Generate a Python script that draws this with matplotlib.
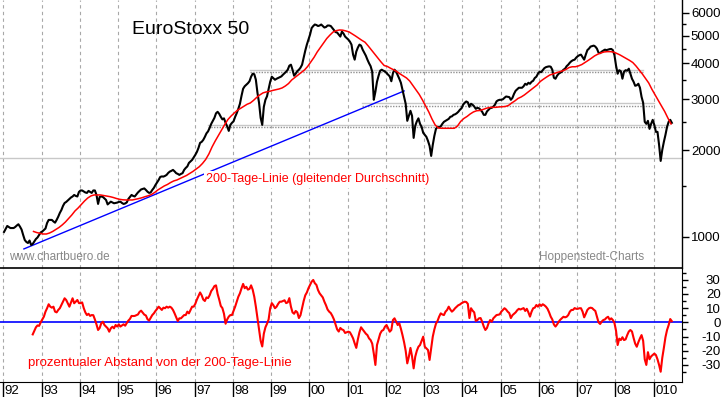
"""EuroStoxx 50 with 200-day line and percentage distance panel."""
import numpy as np
import matplotlib
matplotlib.use("Agg")
import matplotlib.pyplot as plt
from matplotlib.ticker import FixedLocator, FixedFormatter, NullFormatter
from matplotlib.transforms import blended_transform_factory

plt.rcParams["font.family"] = ["Liberation Sans", "DejaVu Sans"]

nan = np.nan

# half-month readings (Jan 1992 .. Jun 2009) for index and distance,
# monthly readings for the 200-day line
half_dates = 1992 + (np.arange(420) + 0.5) / 24
month_dates = 1992 + (np.arange(210) + 0.5) / 12

price = [
    # 1992
    1041, 1066, 1092, 1083, 1074, 1074, 1074, 1083, 1096, 1107, 1086, 1061,
    1016, 976, 961, 953, 972, 938, 946, 965, 984, 996, 1016, 1037,
    # 1993
    1045, 1057, 1070, 1118, 1146, 1146, 1146, 1132, 1121, 1146, 1176, 1212,
    1241, 1282, 1312, 1323, 1339, 1355, 1371, 1382, 1399, 1388, 1382, 1433,
    # 1994
    1450, 1450, 1439, 1427, 1422, 1445, 1433, 1422, 1450, 1450, 1399, 1302,
    1377, 1382, 1377, 1360, 1344, 1297, 1312, 1326, 1318, 1309, 1312, 1316,
    # 1995
    1323, 1326, 1312, 1302, 1307, 1318, 1355, 1377, 1399, 1388, 1382, 1404,
    1427, 1445, 1462, 1468, 1474, 1456, 1436, 1422, 1427, 1456, 1480, 1515,
    # 1996
    1546, 1577, 1616, 1622, 1620, 1629, 1642, 1668, 1686, 1696, 1709, 1689,
    1665, 1655, 1642, 1655, 1665, 1709, 1736, 1757, 1807, 1829, 1851, 1888,
    # 1997
    1927, 1973, 2037, 2121, 2138, 2172, 2225, 2288, 2325, 2391, 2469, 2529,
    2590, 2686, 2718, 2675, 2611, 2559, 2580, 2489, 2420, 2334, 2449, 2489,
    # 1998
    2519, 2611, 2690, 2784, 2898, 3089, 3268, 3334, 3374, 3415, 3470, 3598,
    3685, 3670, 3512, 3164, 2921, 2590, 2449, 2829, 2992, 3077, 3268, 3456,
    # 1999
    3598, 3555, 3512, 3540, 3561, 3584, 3607, 3656, 3700, 3745, 3805, 3929,
    3961, 3805, 3627, 3685, 3760, 3805, 3867, 3961, 4190, 4431, 4650, 4840,
    # 2000
    5038, 5308, 5394, 5460, 5438, 5394, 5416, 5460, 5394, 5330, 5352, 5416,
    5416, 5394, 5308, 5224, 5140, 5120, 5038, 4958, 5161, 5079, 4958, 4899,
    # 2001
    4840, 4763, 4650, 4292, 4123, 4396, 4540, 4650, 4613, 4467, 4361, 4257,
    4123, 4009, 3914, 3745, 2992, 3190, 3456, 3627, 3775, 3805, 3775, 3755,
    # 2002
    3707, 3656, 3607, 3470, 3700, 3805, 3745, 3641, 3540, 3428, 3242, 3064,
    2898, 2529, 2632, 2740, 2632, 2207, 2430, 2519, 2580, 2469, 2410, 2298,
    # 2003
    2261, 2225, 2155, 2070, 1911, 2087, 2243, 2372, 2410, 2400, 2420, 2469,
    2509, 2529, 2549, 2569, 2611, 2621, 2653, 2664, 2686, 2718, 2762, 2795,
    # 2004
    2875, 2921, 2952, 2933, 2829, 2898, 2875, 2837, 2784, 2806, 2795, 2762,
    2718, 2653, 2653, 2726, 2762, 2799, 2806, 2835, 2875, 2955, 2980, 2992,
    # 2005
    2992, 3004, 3040, 3072, 3064, 3057, 2992, 3040, 3139, 3216, 3255, 3294,
    3294, 3294, 3334, 3401, 3374, 3428, 3401, 3456, 3484, 3561, 3598, 3685,
    # 2006
    3745, 3730, 3790, 3852, 3883, 3898, 3908, 3898, 3805, 3569, 3540, 3627,
    3685, 3715, 3745, 3805, 3836, 3914, 3961, 4025, 4074, 4106, 4123, 4190,
    # 2007
    4240, 4274, 4292, 4207, 4123, 4292, 4449, 4503, 4577, 4595, 4613, 4577,
    4503, 4361, 4343, 4396, 4431, 4467, 4449, 4467, 4485, 4492, 4449, 4274,
    # 2008
    3929, 3685, 3790, 3760, 3541, 3745, 3790, 3775, 3836, 3685, 3540, 3456,
    3347, 3360, 3401, 3294, 3064, 2921, 2509, 2469, 2529, 2372, 2469, 2549,
    # 2009
    2449, 2316, 2316, 2087, 1836, 2005, 2138, 2261, 2410, 2509, 2549, 2489,
]

ma200 = [
    nan, nan, nan, nan, nan, nan, nan, nan, nan, 1045, 1036, 1030,
    1024, 1024, 1032, 1045, 1062, 1079, 1101, 1127, 1159, 1192, 1231, 1261,
    1297, 1333, 1365, 1388, 1399, 1399, 1399, 1393, 1388, 1380, 1371, 1360,
    1351, 1346, 1344, 1344, 1344, 1351, 1359, 1368, 1380, 1390, 1404, 1427,
    1456, 1479, 1503, 1521, 1545, 1565, 1577, 1596, 1616, 1635, 1661, 1688,
    1721, 1753, 1799, 1857, 1940, 2052, 2153, 2250, 2350, 2457, 2557, 2630,
    2694, 2753, 2797, 2841, 2887, 2917, 2977, 3049, 3111, 3162, 3186, 3199,
    3224, 3242, 3262, 3290, 3341, 3407, 3506, 3577, 3649, 3723, 3797, 3905,
    4050, 4200, 4385, 4546, 4712, 4884, 5020, 5145, 5200, 5227, 5218, 5186,
    5145, 5062, 4982, 4894, 4812, 4739, 4600, 4454, 4315, 4181, 4050, 3935,
    3905, 3850, 3802, 3747, 3679, 3620, 3563, 3478, 3357, 3237, 3124, 2989,
    2849, 2715, 2567, 2447, 2389, 2383, 2383, 2383, 2383, 2383, 2426, 2517,
    2577, 2619, 2672, 2715, 2741, 2747, 2769, 2795, 2813, 2817, 2817, 2826,
    2830, 2836, 2860, 2917, 2965, 3025, 3061, 3111, 3174, 3237, 3302, 3369,
    3465, 3530, 3591, 3649, 3678, 3713, 3742, 3772, 3812, 3872, 3896, 3896,
    3924, 3965, 4030, 4098, 4170, 4248, 4306, 4350, 4385, 4396, 4396, 4378,
    4333, 4281, 4220, 4163, 4098, 4030, 3921, 3797, 3678, 3549, 3422, 3254,
    3111, 2977, 2849, 2726, 2588, 2467,
]

distance = [
    # 1992
    nan, nan, nan, nan, nan, nan, nan, nan, nan, nan, nan, nan,
    nan, nan, nan, nan, nan, nan, -8.5, -6, -3.5, -2.2, -2.5, 0,
    # 1993
    2, 4, 7.5, 9.9, 12.7, 11, 10.3, 11, 7.5, 7, 8.7, 9.9,
    12.2, 14.5, 16.9, 15.7, 13.4, 11, 14, 16.9, 13.4, 14.5, 15.7, 13.5,
    # 1994
    13.5, 14, 10, 7, 5.1, 6, 4.5, 5.1, 5, 2, -1.5, -5.4,
    -4, -0.7, 0.4, -1.9, -3.1, -4.2, -6.6, -4.2, -3.1, -4.2, -1.9, -3,
    # 1995
    -1.4, -3, -2.2, -1.4, -2.4, -0.5, 1.2, 2.4, 4.5, 4.4, 4.5, 5,
    5.5, 7.3, 8.2, 6.8, 5.4, 4.8, 2.2, 1.2, 3.2, 5.1, 6.3, 8,
    # 1996
    9.4, 11, 9.9, 8.7, 10.3, 9.9, 11, 10.3, 11, 10.3, 8.7, 6.3,
    3.5, 0.9, 2.8, 2.8, 3.9, 5.1, 5.1, 7.5, 6.3, 8.7, 11, 11,
    # 1997
    13, 16, 18.5, 21, 19, 16, 15, 17.5, 17, 19, 22, 23.5,
    25.5, 26, 20, 16, 11.5, 10, 6, -1, 2, 4, 5.1, 5.1,
    # 1998
    8, 11, 14.5, 18, 20.4, 23.9, 27, 24, 25, 23, 23.5, 26,
    23, 18, 11, 3, -5, -13, -17, -8, -3.5, -1, 2, 10,
    # 1999
    13.5, 12, 9.9, 11, 13, 14.5, 14.5, 15, 15.5, 13.5, 14, 17,
    11, 7, 6, 8, 7, 3, 5, 10, 15, 19, 21, 24,
    # 2000
    26.3, 28.6, 29.8, 27.5, 26.3, 22.7, 20.4, 19, 17.5, 14.5, 12, 9,
    7.5, 6.5, 4.5, 2, -1.5, -5, -6.5, -4, -5, -5.5, -7.5, -7,
    # 2001
    -6.6, -7, -9, -11.3, -14.8, -18, -12, -7, -3.5, -5, -6.5, -8,
    -9, -11.3, -12.5, -15, -22, -30, -16, -12, -8, -6, -5.4, -3.1,
    # 2002
    -1.9, -4.2, -6.6, -5.4, 1.6, 2.8, 0.4, -1.9, -0.7, -4.5, -9, -14,
    -20, -28.9, -24.2, -18, -24, -32.4, -24.2, -20, -17.2, -16, -13, -10.1,
    # 2003
    -17.2, -18.3, -19.5, -26.5, -18.3, -10.1, -5, -1, 1, 4, 6.3, 5.5,
    5.1, 7.5, 8.7, 11, 9, 7.5, 8.5, 9.9, 11, 12, 12.5, 13.4,
    # 2004
    14, 14.5, 14.3, 13, 3, 9.9, 8.2, 7, 1, 1.6, 2.8, 3,
    0.4, -3, -5.4, -4, -0.7, 1.6, 0.4, 2.8, 4, 5.1, 5.3, 5.6,
    # 2005
    7.5, 8.7, 9.9, 9, 7.5, 6.5, 3, 5, 6, 7, 8.5, 9.5,
    9, 9.5, 10, 8, 9.5, 7, 4, 7.5, 9.9, 10.3, 12.2, 11,
    # 2006
    12.7, 11.5, 12.7, 12, 11, 9.5, 7, 4, 2, -1.5, -3, -1.5,
    0.4, 1.8, 2.8, 3.9, 3.5, 3.9, 5.1, 7.5, 8.7, 8.7, 10, 9.5,
    # 2007
    9.5, 9.9, 9.9, 7.5, 3.5, 6, 8.7, 9.9, 10.3, 10, 8.9, 8,
    4, 0, -1.2, 0.5, 1.6, 2, 3.2, 3.9, 1.8, 2.8, 1.6, -0.5,
    # 2008
    -6, -16, -11.5, -12.5, -10.5, -12.5, -12, -9, -6.5, -5.4, -6.5, -11,
    -15, -17.2, -14, -11.3, -9, -13, -26, -30, -21, -26, -24, -23,
    # 2009
    -22, -23, -26, -30, -34.8, -25, -18, -10.5, -5.4, -2, 2.3, 0.8,
]

# trend line and horizontal marks drawn on the chart
trend_dates = [1992.54, 2002.48]
trend_values = [909, 3211]
level_values = [3810, 2905, 2440]
level_start = [1998.45, 2001.38, 1997.35]
level_end = [2008.73, 2009.01, 2009.40]
support_value = 1884

years = list(range(1992, 2010))
year_labels = ["92", "93", "94", "95", "96", "97", "98", "99", "00",
               "01", "02", "03", "04", "05", "06", "07", "08", "010"]
price_ticks = [1000, 2000, 3000, 4000, 5000, 6000]
price_minor = [1500, 2500, 3500, 4500, 5500]
dist_ticks = [-30, -20, -10, 0, 10, 20, 30]
dist_minor = [-35, -25, -15, -5, 5, 15, 25, 35]

W, H = 723, 397
XLIM = (1991.915, 2009.745)


def box(l, t, r, b):
    return [l / W, 1 - b / H, (r - l) / W, (b - t) / H]


fig = plt.figure(figsize=(W / 100, H / 100), dpi=100)
axl = fig.add_axes(box(0, 268.3, 682, 382))
ax = fig.add_axes(box(0, 0, 682, 268.3))
ax.patch.set_visible(False)

grid_kw = dict(color="#a8a8a8", lw=0.8, ls=(0, (3, 3)), zorder=0.5)

# --- price panel
ax.set_yscale("log")
ax.set_xlim(*XLIM)
ax.set_ylim(778.6, 6641)
for yr in years:
    ax.axvline(yr, **grid_kw)
ax.axhline(support_value, color="#c8c8c8", lw=1.0, zorder=1)
for lv, x0, x1 in zip(level_values, level_start, level_end):
    ax.plot([x0, x1], [lv, lv], color="#c8c8c8", lw=1.0, zorder=1)
    ax.plot([x0, x1], [lv * 0.984, lv * 0.984], color="#909090", lw=1.0,
            ls=(0, (1, 1)), zorder=1)
ax.plot(trend_dates, trend_values, color="#0000ff", lw=1.0, zorder=2)
ax.plot(half_dates, price, color="black", lw=1.5, zorder=3)
ax.plot(month_dates, ma200, color="#ff0000", lw=1.1, zorder=4)

for s in ("left", "top"):
    ax.spines[s].set_visible(False)
ax.spines["bottom"].set_linewidth(1.2)
ax.spines["right"].set_linewidth(1.0)
ax.tick_params(axis="x", bottom=False, labelbottom=False)
ax.yaxis.tick_right()
ax.yaxis.set_major_locator(FixedLocator(price_ticks))
ax.yaxis.set_major_formatter(FixedFormatter([str(v) for v in price_ticks]))
ax.yaxis.set_minor_locator(FixedLocator(price_minor))
ax.yaxis.set_minor_formatter(NullFormatter())
ax.tick_params(axis="y", which="major", length=5, width=1, pad=1.4,
               labelsize=9.5)
ax.tick_params(axis="y", which="minor", length=2.9, width=1)

# --- distance panel
axl.set_xlim(*XLIM)
axl.set_ylim(-42, 38)
for yr in years:
    axl.axvline(yr, **grid_kw)
axl.axhline(0, color="#0000ff", lw=1.2, zorder=2)
axl.plot(half_dates, distance, color="#ff0000", lw=1.5, zorder=3)
for s in ("left", "top"):
    axl.spines[s].set_visible(False)
axl.yaxis.tick_right()
axl.yaxis.set_major_locator(FixedLocator(dist_ticks))
axl.yaxis.set_major_formatter(FixedFormatter([str(v) for v in dist_ticks]))
axl.yaxis.set_minor_locator(FixedLocator(dist_minor))
axl.yaxis.set_minor_formatter(NullFormatter())
axl.tick_params(axis="y", which="major", length=4.3, width=1, pad=23.5,
                labelsize=9.5)
axl.tick_params(axis="y", which="minor", length=2.9, width=1)
for lab in axl.get_yticklabels():
    lab.set_horizontalalignment("right")

axl.set_xticks(years)
axl.set_xticklabels([])
axl.tick_params(axis="x", length=11, width=1, direction="out")
trans = blended_transform_factory(axl.transData, axl.transAxes)
for yr, lab in zip(years, year_labels):
    axl.text(yr + 1.5 / 38.25, -0.075, lab, transform=trans, ha="left",
             va="center", fontsize=9.5)

# --- texts
fig.text(132 / W, 1 - 30 / H, "EuroStoxx 50", fontsize=14, ha="left",
         va="center")
fig.text(206 / W, 1 - 179 / H, "200-Tage-Linie (gleitender Durchschnitt)",
         color="#ff0000", fontsize=9, ha="left", va="center",
         bbox=dict(facecolor="white", edgecolor="none", pad=1.8))
fig.text(9 / W, 1 - 257 / H, "www.chartbuero.de", color="#888888",
         fontsize=8.5, ha="left", va="center")
fig.text(539 / W, 1 - 257 / H, "Hoppenstedt-Charts", color="#888888",
         fontsize=8.5, ha="left", va="center")
fig.text(28 / W, 1 - 363 / H, "prozentualer Abstand von der 200-Tage-Linie",
         color="#ff0000", fontsize=9.5, ha="left", va="center")

fig.savefig("out.png", dpi=100)
